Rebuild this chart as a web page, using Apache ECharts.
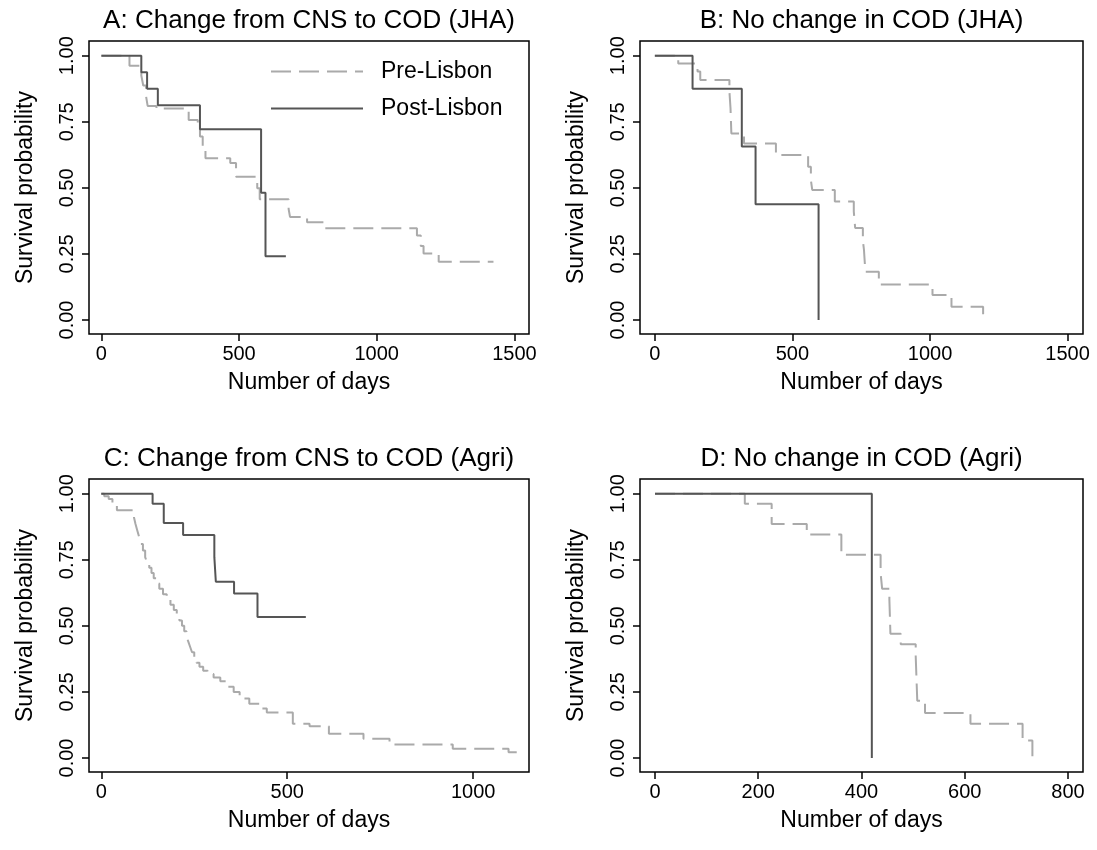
<!DOCTYPE html>
<html><head><meta charset="utf-8">
<script src="https://cdn.jsdelivr.net/npm/echarts@6/dist/echarts.min.js"></script>
<style>html,body{margin:0;padding:0;background:#fff}#c{width:1097px;height:850px}</style>
</head><body><div id="c"></div>
<script>
const panelTitles = ['A: Change from CNS to COD (JHA)', 'B: No change in COD (JHA)', 'C: Change from CNS to COD (Agri)', 'D: No change in COD (Agri)'];
const seriesNames = ['Pre-Lisbon', 'Post-Lisbon'];

// Panel A
const aPreDays  = [0, 102, 145, 152, 162, 168, 200, 317, 350, 358, 368, 378, 468, 489, 566, 575, 680, 685, 747, 807, 1146, 1160, 1170, 1225, 1424];
const aPreSurv  = [1, 0.962, 0.925, 0.887, 0.848, 0.81, 0.80, 0.757, 0.73, 0.694, 0.655, 0.612, 0.594, 0.542, 0.498, 0.457, 0.42, 0.39, 0.37, 0.347, 0.32, 0.28, 0.252, 0.22, 0.22];
const aPostDays = [0, 145, 166, 205, 358, 580, 596, 670];
const aPostSurv = [1, 0.9375, 0.875, 0.8125, 0.722, 0.481, 0.241, 0.241];

// Panel B
const bPreDays  = [0, 85, 155, 165, 271, 275, 278, 324, 440, 557, 567, 572, 654, 723, 728, 756, 760, 765, 814, 1009, 1078, 1193];
const bPreSurv  = [1, 0.97, 0.94, 0.908, 0.864, 0.80, 0.706, 0.668, 0.624, 0.58, 0.53, 0.492, 0.448, 0.41, 0.348, 0.30, 0.265, 0.183, 0.134, 0.095, 0.05, 0];
const bPostDays = [0, 137, 316, 366, 595];
const bPostSurv = [1, 0.875, 0.656, 0.4375, 0];

// Panel C
const cPreDays  = [0, 8, 20, 30, 42, 88, 92, 97, 102, 106, 112, 118, 123, 129, 135, 141, 148, 156, 166, 176, 186, 195, 203, 210, 217, 223, 229, 234, 239, 244, 250, 256, 264, 274, 286, 302, 320, 340, 356, 372, 398, 425, 445, 515, 560, 612, 705, 775, 945, 1095, 1117];
const cPreSurv  = [1, 0.99, 0.98, 0.96, 0.937, 0.91, 0.885, 0.86, 0.835, 0.81, 0.785, 0.76, 0.74, 0.72, 0.70, 0.68, 0.66, 0.64, 0.62, 0.60, 0.58, 0.56, 0.54, 0.52, 0.50, 0.48, 0.46, 0.44, 0.42, 0.40, 0.38, 0.36, 0.345, 0.33, 0.318, 0.305, 0.29, 0.27, 0.25, 0.225, 0.205, 0.187, 0.172, 0.13, 0.12, 0.092, 0.073, 0.051, 0.035, 0.022, 0.022];
const cPostDays = [0, 138, 168, 220, 304, 308, 357, 420, 550];
const cPostSurv = [1, 0.962, 0.889, 0.844, 0.76, 0.667, 0.622, 0.533, 0.533];

// Panel D
const dPreDays  = [0, 174, 226, 294, 361, 437, 440, 454, 456, 476, 505, 508, 523, 611, 712, 731];
const dPreSurv  = [1, 0.962, 0.885, 0.846, 0.769, 0.70, 0.64, 0.60, 0.47, 0.43, 0.385, 0.217, 0.17, 0.13, 0.066, 0];
const dPostDays = [0, 420];
const dPostSurv = [1, 0];

const xTicksJHA  = [0, 500, 1000, 1500];
const xTicksAgriC = [0, 500, 1000];
const xTicksAgriD = [0, 200, 400, 600, 800];
const yTicks = [0, 0.25, 0.5, 0.75, 1];

const FONT = '"Liberation Sans", Arial, Helvetica, sans-serif';
const PRE_COLOR = '#aaaaaa';
const POST_COLOR = '#555555';

const grids = [
  {left: 89, top: 41, width: 440, height: 293},
  {left: 640, top: 41, width: 443, height: 293},
  {left: 89, top: 479, width: 440, height: 293},
  {left: 640, top: 479, width: 443, height: 293}
];
const xRanges = [[-45, 1553], [-54, 1556], [-33, 1150], [-29, 829]];
const xTickSets = [xTicksJHA, xTicksJHA, xTicksAgriC, xTicksAgriD];
const panels = [
  [aPreDays, aPreSurv, aPostDays, aPostSurv],
  [bPreDays, bPreSurv, bPostDays, bPostSurv],
  [cPreDays, cPreSurv, cPostDays, cPostSurv],
  [dPreDays, dPreSurv, dPostDays, dPostSurv]
];

function km(days, surv) { return days.map((d, i) => [d, surv[i]]); }

const xAxes = [], yAxes = [], series = [], graphics = [];
grids.forEach((g, i) => {
  xAxes.push({
    type: 'value', gridIndex: i, min: xRanges[i][0], max: xRanges[i][1], position: 'bottom',
    axisLine: {show: false, onZero: false}, splitLine: {show: false},
    axisTick: {show: true, inside: false, length: 7, customValues: xTickSets[i], lineStyle: {color: '#000', width: 1.5}},
    axisLabel: {customValues: xTickSets[i], fontSize: 20, color: '#000', margin: 10, fontFamily: FONT,
      formatter: v => String(v)},
    name: 'Number of days', nameLocation: 'middle', nameGap: 37,
    nameTextStyle: {fontSize: 23, color: '#000', fontFamily: FONT}
  });
  yAxes.push({
    type: 'value', gridIndex: i, min: -0.053, max: 1.0556, position: 'left',
    axisLine: {show: false, onZero: false}, splitLine: {show: false},
    axisTick: {show: true, inside: false, length: 7, customValues: yTicks, lineStyle: {color: '#000', width: 1.5}},
    axisLabel: {customValues: yTicks, rotate: 90, fontSize: 20, color: '#000', margin: 12, fontFamily: FONT,
      formatter: v => Number(v).toFixed(2)},
    name: 'Survival probability', nameLocation: 'middle', nameGap: 52,
    nameTextStyle: {fontSize: 23, color: '#000', fontFamily: FONT}
  });
  const p = panels[i];
  series.push({
    name: seriesNames[0], type: 'line', step: 'end', symbol: 'none', silent: true,
    xAxisIndex: i, yAxisIndex: i, data: km(p[0], p[1]),
    itemStyle: {color: PRE_COLOR},
    lineStyle: {color: PRE_COLOR, width: 2, type: [20, 8]}
  });
  series.push({
    name: seriesNames[1], type: 'line', step: 'end', symbol: 'none', silent: true,
    xAxisIndex: i, yAxisIndex: i, data: km(p[2], p[3]),
    itemStyle: {color: POST_COLOR},
    lineStyle: {color: POST_COLOR, width: 2}
  });
  graphics.push({
    type: 'text', x: g.left + g.width / 2, y: g.top - 20,
    style: {text: panelTitles[i], font: '26px ' + FONT, fill: '#000', align: 'center', verticalAlign: 'middle'}
  });
});

const chart = echarts.init(document.getElementById('c'), null, {renderer: 'canvas'});
chart.setOption({
  animation: false,
  backgroundColor: '#fff',
  grid: grids.map(g => Object.assign({show: true, borderColor: '#000', borderWidth: 1.5, backgroundColor: 'transparent'}, g)),
  xAxis: xAxes,
  yAxis: yAxes,
  legend: {
    orient: 'vertical', left: 270, top: 60, padding: 0, itemWidth: 92, itemHeight: 14, itemGap: 14,
    data: seriesNames,
    itemStyle: {opacity: 0},
    textStyle: {fontSize: 23, color: '#000', fontFamily: FONT, padding: [0, 0, 0, 13]}
  },
  graphic: graphics,
  series: series
});
</script>
</body></html>
